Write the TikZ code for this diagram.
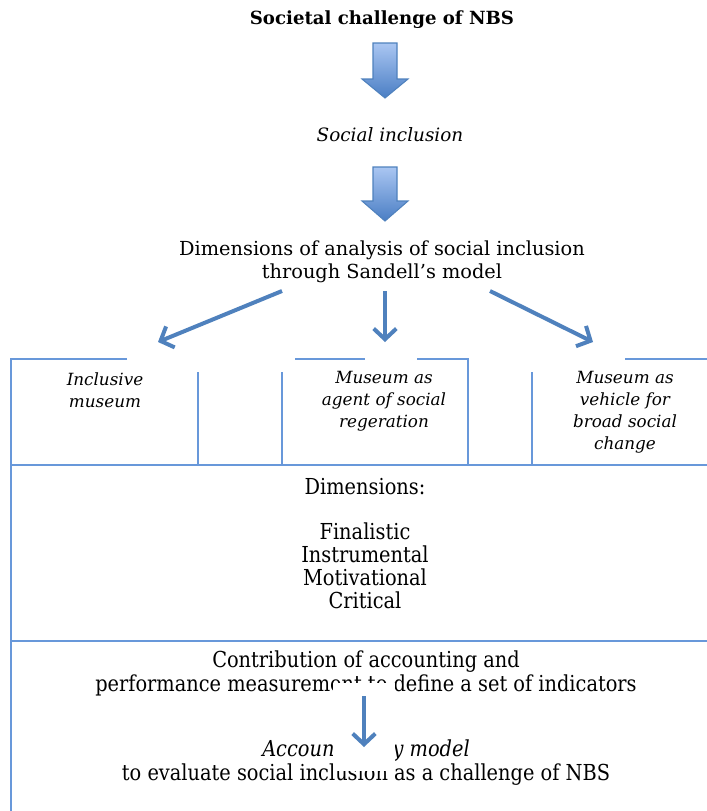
\documentclass[tikz,border=0pt]{standalone}
\usepackage{fontspec}
\setmainfont{DejaVu Serif}
\newfontfamily\condfont{DejaVu Serif}[FakeStretch=0.88]
\usetikzlibrary{arrows.meta,calc}
\definecolor{boxline}{RGB}{104,152,218}
\definecolor{arrowblue}{RGB}{79,129,189}
\definecolor{arrowtop}{RGB}{170,198,242}
\definecolor{arrowbot}{RGB}{74,126,196}
\tikzset{
  txt/.style={inner sep=0pt, align=center, font=\fontsize{14.5}{17.3}\selectfont},
  titletxt/.style={inner sep=0pt, align=center, font=\fontsize{13.6}{17}\selectfont\bfseries},
  itxt/.style={inner sep=0pt, align=center, font=\fontsize{13.8}{17}\selectfont\itshape},
  boxtxt/.style={inner sep=0pt, align=center, font=\fontsize{12.6}{16.5}\selectfont\itshape},
  lowtxt/.style={inner sep=0pt, align=center, font=\condfont\fontsize{16.5}{17.3}\selectfont},
  boxedge/.style={draw=boxline, line width=1.6pt},
  thinarrow/.style={draw=arrowblue, line width=3pt, -{Straight Barb[length=8pt,width=17pt]}},
  blockarrow/.style={draw=arrowblue, line width=0.8pt, top color=arrowtop, bottom color=arrowbot, line join=miter},
}
\begin{document}
\begin{tikzpicture}[x=0.75pt,y=-0.75pt]
\useasboundingbox (0,0) rectangle (707,811);

% texts
\node[titletxt] (title) at (382,20) {Societal challenge of NBS};
\node[itxt] (social) at (390,135) {Social inclusion};
\node[txt] (dim) at (382,261.5) {Dimensions of analysis of social inclusion\\through Sandell’s model};
\node[boxtxt] (incl) at (105,390.5) {Inclusive\\museum};
\node[boxtxt] (agent) at (384,401) {Museum as\\agent of social\\regeration};
\node[boxtxt] (vehicle) at (625,412.5) {Museum as\\vehicle for\\broad social\\change};
\node[lowtxt] (dims) at (365,487) {Dimensions:};
\node[lowtxt] (list) at (365,566) {Finalistic\\Instrumental\\Motivational\\Critical};
\node[lowtxt, font=\condfont\fontsize{16.5}{18}\selectfont] (contrib) at (366,673) {Contribution of accounting and\\performance measurement to define a set of indicators};
\node[lowtxt, font=\condfont\fontsize{16.5}{18}\selectfont] (model) at (366,762.5) {\textit{Accountability model}\\to evaluate social inclusion as a challenge of NBS};

% block arrows
\draw[blockarrow] (373,43) -- (397,43) -- (397,79) -- (408,79) -- (385,98) -- (362,79) -- (373,79) -- cycle;
\draw[blockarrow] (373,167) -- (397,167) -- (397,201) -- (408,201) -- (385,221) -- (362,201) -- (373,201) -- cycle;

% box lines
\draw[boxedge] (127,359) -- (11,359) -- (11,811);
\draw[boxedge] (198,372) -- (198,465);
\draw[boxedge] (282,372) -- (282,465);
\draw[boxedge] (295,359) -- (365,359);
\draw[boxedge] (417,359) -- (468,359) -- (468,465);
\draw[boxedge] (532,372) -- (532,465);
\draw[boxedge] (625,359) -- (707,359);
\draw[boxedge] (11,465) -- (707,465);
\draw[boxedge] (11,641) -- (707,641);

% thin arrows
\coordinate (l0) at (282,291);
\coordinate (l1) at (158,342);
\coordinate (m0) at (385,291);
\coordinate (m1) at (385,342);
\coordinate (r0) at (490,291);
\coordinate (r1) at (593,342);
\draw[thinarrow] (l0) -- (l1);
\draw[thinarrow] (m0) -- (m1);
\draw[thinarrow] (r0) -- (r1);

% bottom arrow with white glow
\coordinate (b0) at (364,696);
\coordinate (b1) at (364,747);
\fill[white] (333,683) rectangle (395,771);
\draw[thinarrow] (b0) -- (b1);
\end{tikzpicture}
\end{document}
